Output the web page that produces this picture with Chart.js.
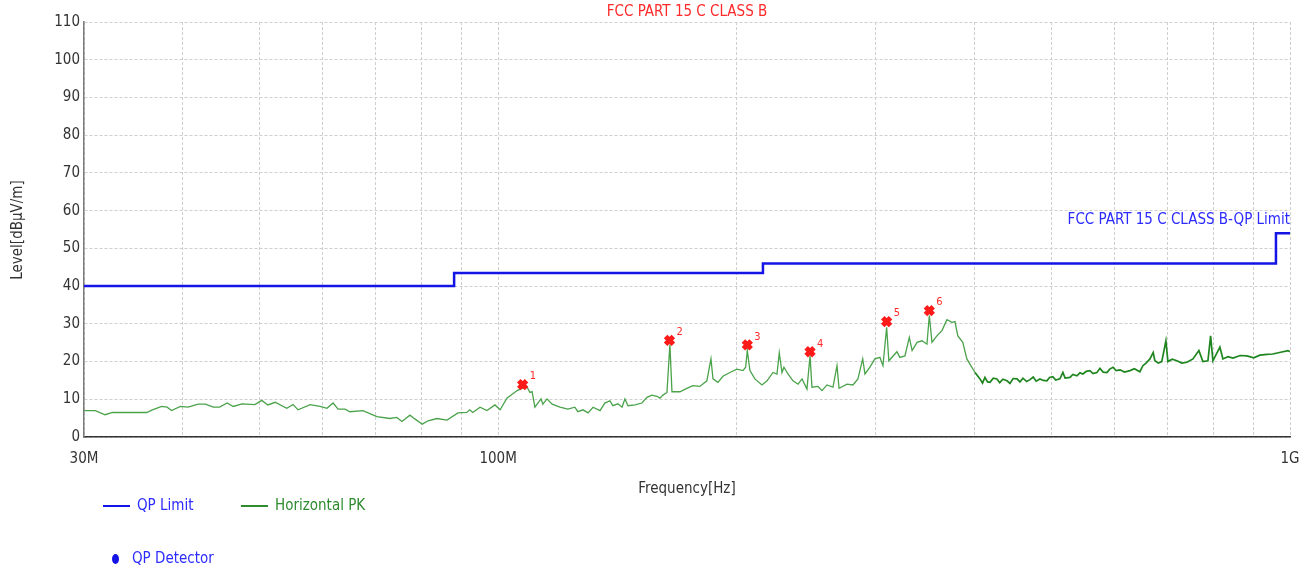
<!DOCTYPE html>
<html lang="en">
<head>
  <meta charset="UTF-8" />
  <title>FCC PART 15 C CLASS B</title>
  <script src="https://cdn.jsdelivr.net/npm/chart.js"></script>
  <style>
    body {
      margin: 0;
      background: #fff;
      font-family: "Liberation Sans Narrow", "Arial Narrow", "DejaVu Sans Condensed", sans-serif;
    }

    .wrap {
      position: relative;
      width: 1313px;
      height: 571px;
    }

    /* legend under the plot */
    .legend-item {
      position: absolute;
      font-size: 15px;
      line-height: 18px;
      white-space: nowrap;
    }

    .legend-item .swatch {
      display: inline-block;
      width: 27px;
      height: 2px;
      vertical-align: middle;
      margin-right: 7px;
    }

    .legend-item .dot {
      display: inline-block;
      width: 7px;
      height: 10px;
      border-radius: 50%;
      background: #1414e6;
      vertical-align: middle;
      margin-right: 13px;
    }
  </style>
</head>
<body>
  <div class="wrap">
    <canvas id="chart" width="1313" height="571"></canvas>
    <div class="legend-item" style="left:103px; top:496px; color:#2b2bff;"><span class="swatch" style="background:#1414e6"></span>QP Limit</div>
    <div class="legend-item" style="left:241px; top:496px; color:#2e8b2e;"><span class="swatch" style="background:#2e8b2e"></span>Horizontal PK</div>
    <div class="legend-item" style="left:112px; top:549px; color:#2b2bff;"><span class="dot"></span>QP Detector</div>
  </div>

  <script>
    const FONT = '"Liberation Sans Narrow", "Arial Narrow", "DejaVu Sans Condensed", sans-serif';

    // QP limit (MHz, dBuV/m)
    const limitFreq  = [30, 88, 88, 216, 216, 960, 960, 1000];
    const limitLevel = [40, 40, 43.5, 43.5, 46, 46, 54, 54];

    // Horizontal peak trace (MHz, dBuV/m)
    const pkFreq = [
      30.0, 31.0, 31.9, 32.6, 36.0, 36.6, 37.6, 38.2, 38.7, 39.7,
      40.6, 41.8, 42.7, 43.7, 44.5, 45.5, 46.3, 47.5, 49.3, 50.3,
      51.2, 52.3, 54.1, 55.1, 55.9, 57.9, 59.6, 60.8, 61.9, 62.8,
      64.1, 65.0, 67.5, 70.3, 73.0, 74.5, 75.6, 77.4, 78.5, 80.2,
      81.6, 83.7, 86.2, 89.0, 91.3, 92.1, 92.9, 94.9, 96.8, 99.1,
      100.6, 102.6, 105.7, 107.2, 108.8, 109.7, 110.4, 111.3, 113.3, 113.9,
      115.3, 117.0, 119.7, 122.5, 125.0, 126.1, 128.0, 129.9, 131.8, 134.5,
      136.4, 138.4, 139.6, 141.7, 143.4, 144.6, 145.9, 148.9, 151.9, 154.2,
      156.4, 158.7, 160.1, 161.5, 163.4, 164.8, 165.8, 169.7, 173.1, 176.2,
      179.8, 183.5, 185.7, 186.8, 189.5, 192.3, 196.2, 200.3, 203.8, 205.4,
      206.4, 208.0, 211.0, 215.4, 218.6, 222.4, 225.0, 226.5, 228.3, 229.6,
      232.3, 235.7, 239.2, 242.0, 245.5, 247.7, 249.1, 253.5, 256.5, 260.2,
      264.8, 267.9, 269.5, 275.8, 280.6, 284.7, 288.7, 290.6, 294.8, 299.1,
      303.5, 306.2, 309.5, 311.5, 318.9, 321.6, 326.4, 330.6, 333.3, 338.1,
      343.0, 348.0, 350.4, 353.1, 358.2, 363.5, 368.8, 374.2, 377.5, 380.7,
      386.2, 390.8, 394.3, 400.2, 406.0, 409, 411.9, 415, 418.0, 422,
      426.5, 430, 434, 439.2, 443, 447, 452.2, 456, 460, 465,
      469.5, 474, 478, 483.3, 488, 493.2, 497, 501.8, 506, 512.2,
      516.7, 520, 527.3, 532, 538.2, 543, 547.7, 553, 558.9, 564,
      570.4, 575.4, 581, 587.2, 592, 597.8, 603, 610.1, 618, 628.0,
      636, 646.3, 652.0, 658, 665.5, 671.8, 675.1, 682, 688.8, 697.1,
      701.2, 710, 719.8, 730, 741.0, 754.1, 767.3, 776.3, 787.7, 793.9,
      799.2, 815.6, 822.8, 835, 847.3, 865, 882.2, 900, 916.2, 935,
      951.2, 970, 993.9, 1000
    ];
    const pkLevel = [
      7.0, 7.0, 5.9, 6.5, 6.5, 7.2, 8.1, 7.9, 7.0, 8.1,
      7.9, 8.7, 8.7, 7.9, 7.9, 9.0, 8.1, 8.8, 8.6, 9.7,
      8.5, 9.2, 7.6, 8.6, 7.2, 8.6, 8.1, 7.6, 9.0, 7.4,
      7.4, 6.7, 7.0, 5.4, 4.9, 5.2, 4.1, 5.8, 4.8, 3.4,
      4.3, 4.9, 4.5, 6.4, 6.5, 7.2, 6.5, 7.9, 7.0, 8.5,
      7.2, 10.3, 12.3, 12.9, 13.2, 11.8, 12.0, 7.9, 10.1, 8.7,
      10.1, 8.7, 7.9, 7.4, 7.9, 6.7, 7.2, 6.4, 7.9, 7.0,
      9.0, 9.6, 8.3, 8.8, 7.9, 10.1, 8.3, 8.5, 9.0, 10.5,
      11.1, 10.8, 10.3, 11.1, 11.8, 24.5, 12.0, 12.0, 12.9, 13.6,
      13.4, 14.9, 20.7, 15.4, 14.5, 16.1, 17.1, 18.0, 17.6, 18.5,
      22.9, 17.6, 15.4, 13.8, 14.9, 17.1, 16.7, 22.3, 17.1, 18.5,
      16.7, 14.9, 14.0, 15.4, 12.7, 21.5, 13.2, 13.4, 12.3, 13.8,
      13.2, 18.9, 12.9, 14.0, 13.8, 15.4, 20.7, 16.7, 18.5, 20.7,
      21.1, 18.9, 29.1, 20.2, 22.6, 21.1, 21.5, 26.4, 22.9, 25.1,
      25.5, 24.6, 32.2, 25.1, 26.8, 28.2, 31.1, 30.4, 30.6, 26.8,
      25.1, 20.7, 19.3, 17.1, 15.4, 14.3, 15.8, 14.6, 14.5, 15.6,
      15.4, 14.4, 15.3, 14.9, 14.2, 15.5, 15.4, 14.6, 15.6, 14.7,
      15.2, 15.9, 14.8, 15.4, 15.0, 14.9, 15.8, 16.0, 15.1, 15.4,
      17.1, 15.6, 15.8, 16.6, 16.2, 17.0, 16.7, 17.4, 17.6, 16.8,
      17.1, 18.2, 17.2, 17.1, 18.0, 18.5, 17.6, 17.8, 17.2, 17.6,
      18.1, 17.3, 18.9, 19.6, 20.7, 22.4, 20.2, 19.6, 20.0, 25.5,
      20.0, 20.6, 20.2, 19.6, 19.8, 20.7, 22.9, 20.0, 20.2, 26.8,
      20.2, 23.8, 20.7, 21.3, 20.9, 21.6, 21.5, 21.0, 21.7, 21.9,
      22.0, 22.4, 22.9, 22.6
    ];

    // final measurement markers
    const markerFreq  = [107.4, 164.6, 206.4, 247.7, 309.5, 350.4];
    const markerLevel = [13.9, 25.6, 24.4, 22.6, 30.6, 33.5];
    const markerLabel = ['1', '2', '3', '4', '5', '6'];

    const xTickValues = [30, 40, 50, 60, 70, 80, 90, 100, 200, 300, 400, 500, 600, 700, 800, 900, 1000];
    const xTickText = { 30: '30M', 100: '100M', 1000: '1G' };

    const toPoints = (xs, ys) => xs.map((x, i) => ({ x: x, y: ys[i] }));

    // titles, limit caption and marker numbers
    const textLayer = {
      id: 'textLayer',
      afterDraw(chart) {
        const { ctx, chartArea, scales } = chart;
        ctx.save();
        ctx.textBaseline = 'middle';

        ctx.font = '15px ' + FONT;
        ctx.fillStyle = '#ff2a2a';
        ctx.textAlign = 'center';
        ctx.fillText('FCC PART 15 C CLASS B', (chartArea.left + chartArea.right) / 2, 12);

        ctx.fillStyle = '#2b2bff';
        ctx.textAlign = 'right';
        ctx.fillText('FCC PART 15 C CLASS B-QP Limit', chartArea.right, scales.y.getPixelForValue(57.6));

        ctx.fillStyle = '#333';
        ctx.textAlign = 'center';
        ctx.fillText('Frequency[Hz]', (chartArea.left + chartArea.right) / 2, 489);

        ctx.save();
        ctx.translate(18, 230);
        ctx.rotate(-Math.PI / 2);
        ctx.fillText('Level[dBμV/m]', 0, 0);
        ctx.restore();

        ctx.font = '11px ' + FONT;
        ctx.fillStyle = '#ff2a2a';
        ctx.textAlign = 'left';
        markerFreq.forEach((f, i) => {
          const px = scales.x.getPixelForValue(f);
          const py = scales.y.getPixelForValue(markerLevel[i]);
          ctx.fillText(markerLabel[i], px + 7, py - 8);
        });
        ctx.restore();
      }
    };

    new Chart(document.getElementById('chart'), {
      type: 'line',
      data: {
        datasets: [
          {
            label: 'QP Limit',
            data: toPoints(limitFreq, limitLevel),
            borderColor: '#1414e6',
            borderWidth: 2.5,
            pointRadius: 0,
            order: 2
          },
          {
            label: 'Horizontal PK',
            data: toPoints(pkFreq, pkLevel),
            borderColor: '#4aa24a',
            borderWidth: 1.3,
            pointRadius: 0,
            order: 3,
            // the dense upper band reads darker and heavier in the original
            segment: {
              borderColor: c => c.p0.parsed.x >= 395 ? '#1f861f' : undefined,
              borderWidth: c => c.p0.parsed.x >= 395 ? 1.7 : undefined
            }
          },
          {
            label: 'Markers',
            type: 'scatter',
            data: toPoints(markerFreq, markerLevel),
            pointStyle: 'crossRot',
            pointRadius: 5.5,
            borderWidth: 5,
            borderColor: '#ff1a1a',
            backgroundColor: '#ff1a1a',
            order: 1
          }
        ]
      },
      options: {
        responsive: false,
        animation: false,
        layout: { padding: { top: 22, right: 23, left: 0, bottom: 0 } },
        plugins: {
          legend: { display: false },
          tooltip: { enabled: false }
        },
        scales: {
          x: {
            type: 'logarithmic',
            min: 30,
            max: 1000,
            afterBuildTicks(scale) {
              scale.ticks = xTickValues.map(v => ({ value: v }));
            },
            afterFit(scale) {
              scale.height = 571 - 437;
            },
            ticks: {
              autoSkip: false,
              maxRotation: 0,
              padding: 13,
              color: '#333',
              font: { family: FONT, size: 15 },
              callback: v => xTickText[v] || ''
            },
            grid: { color: '#cfcfcf', drawTicks: false },
            border: { color: '#333', width: 1.5, dash: [3, 2] }
          },
          y: {
            min: 0,
            max: 110,
            afterFit(scale) {
              scale.width = 84;
            },
            ticks: {
              stepSize: 10,
              padding: 4,
              color: '#333',
              font: { family: FONT, size: 15 }
            },
            grid: { color: '#cfcfcf', drawTicks: false },
            border: { color: '#7a7a7a', width: 1.5, dash: [3, 2] }
          }
        }
      },
      plugins: [textLayer]
    });
  </script>
</body>
</html>
